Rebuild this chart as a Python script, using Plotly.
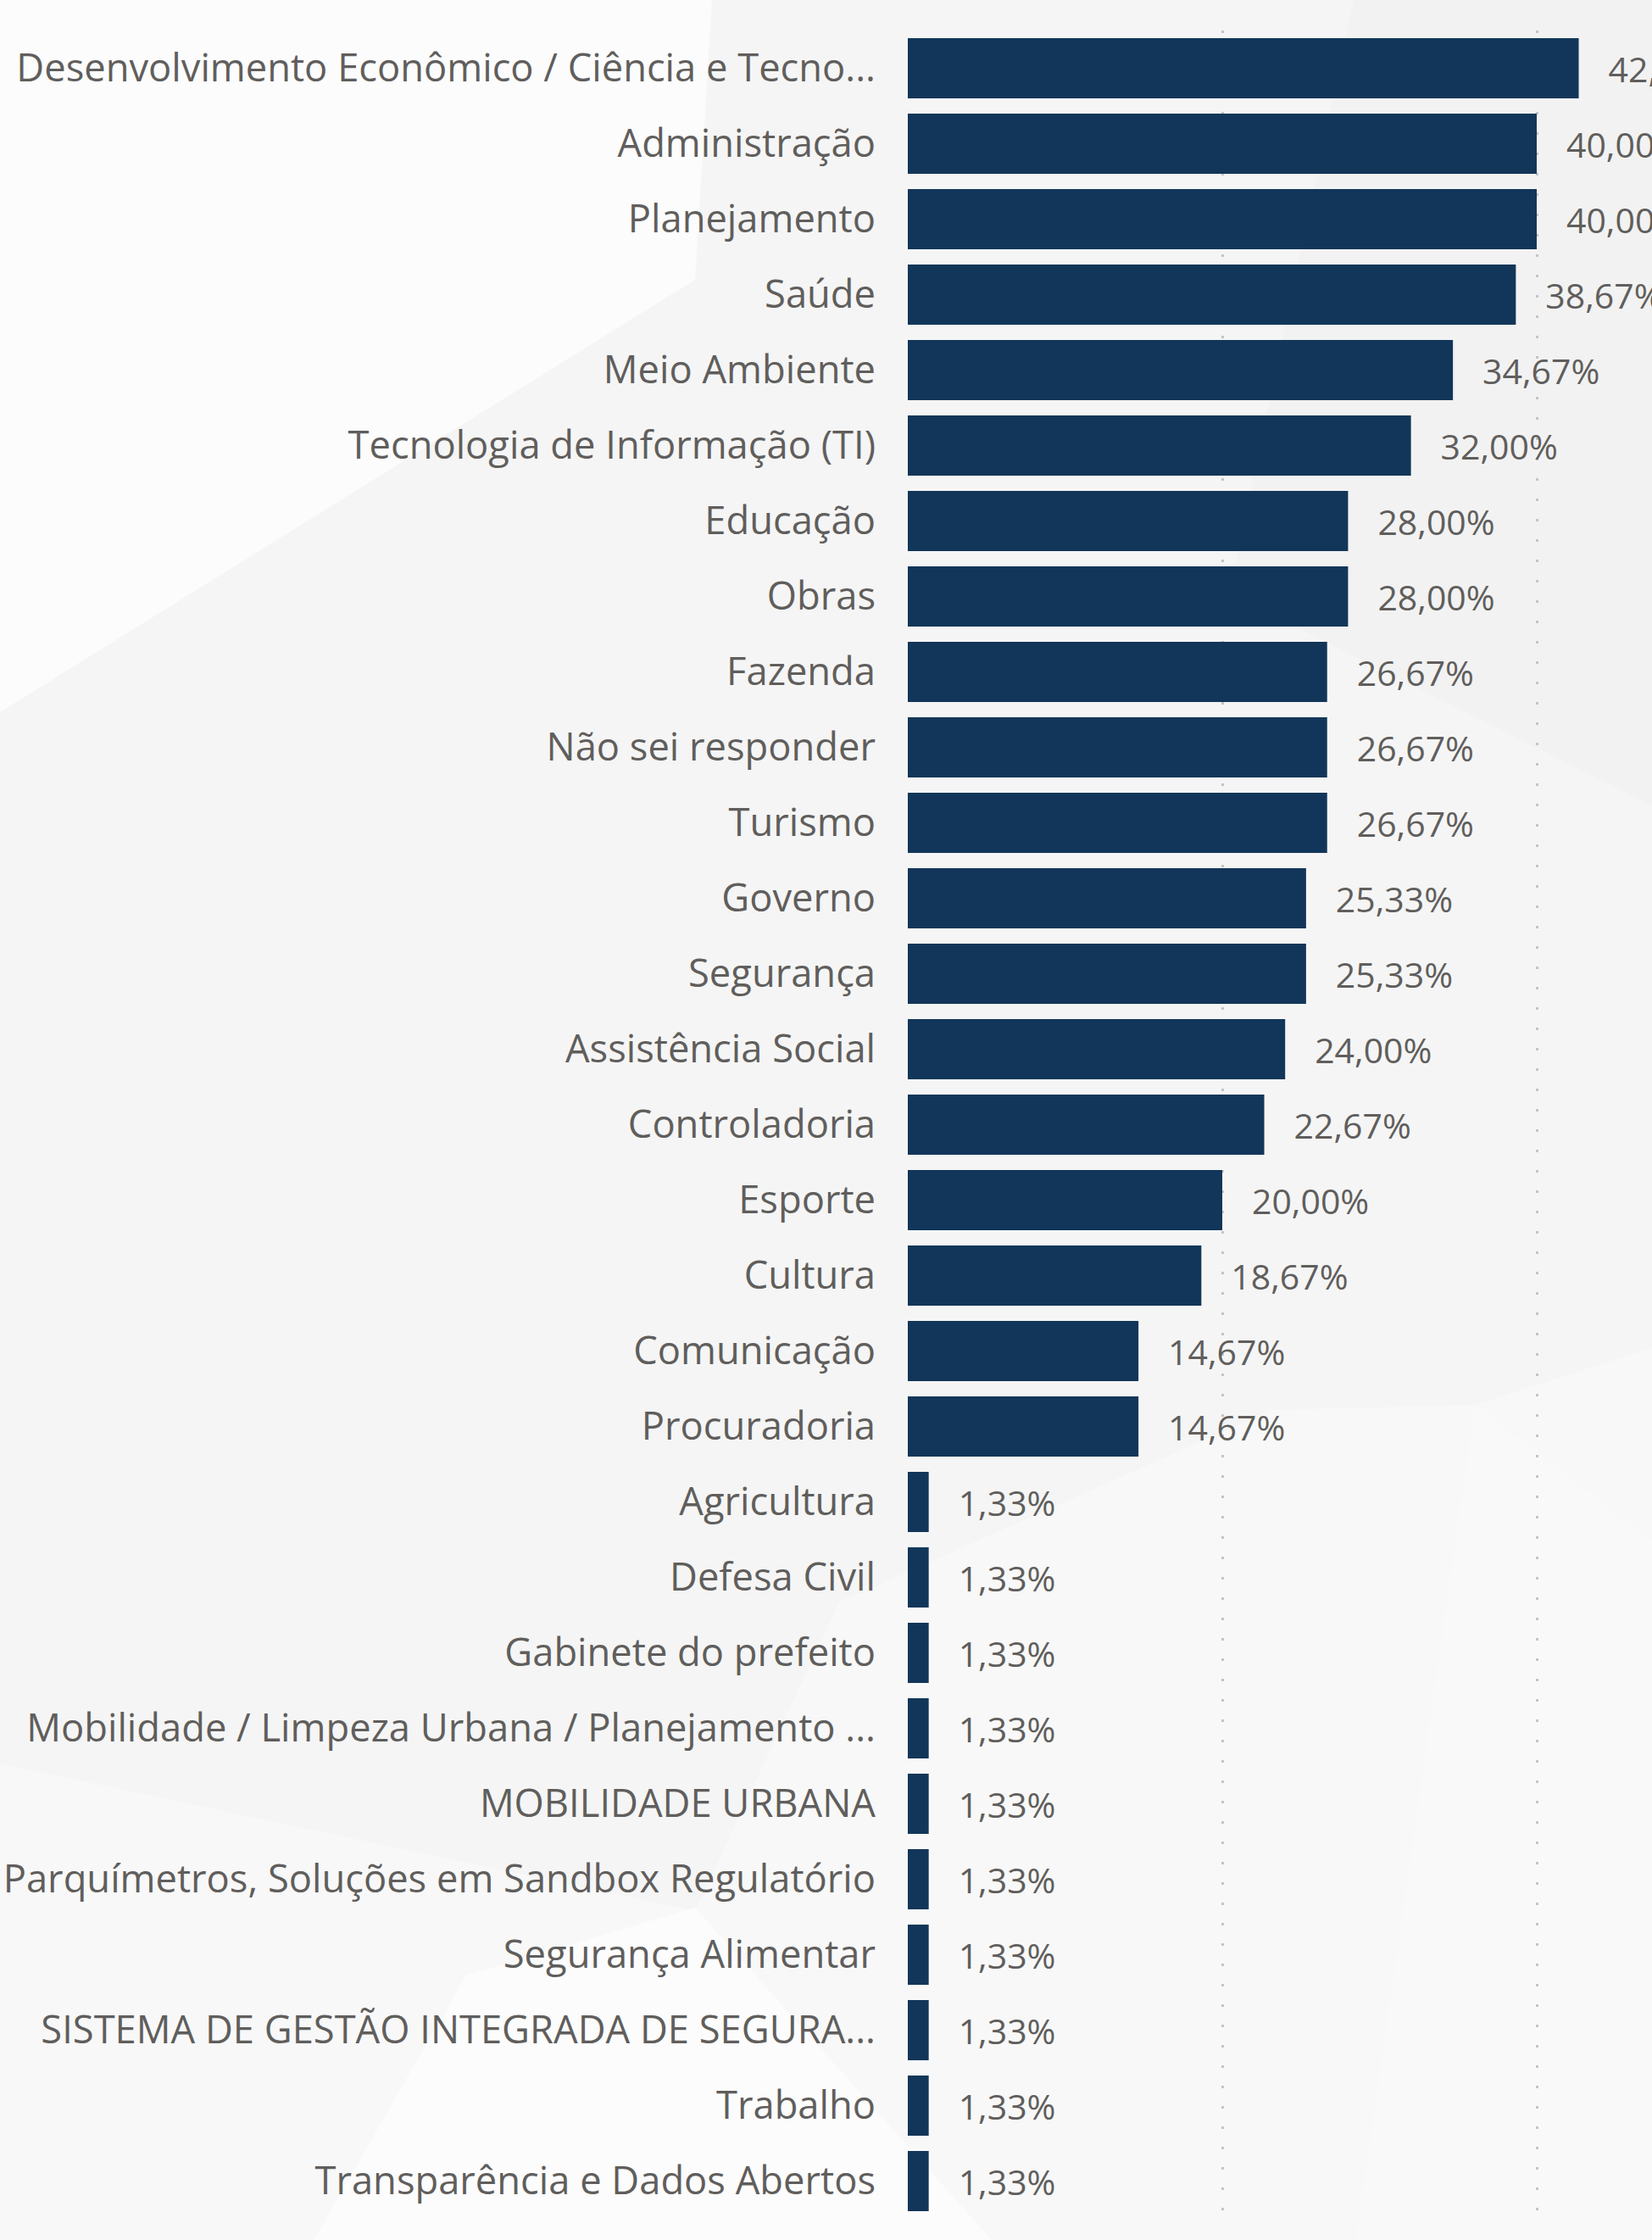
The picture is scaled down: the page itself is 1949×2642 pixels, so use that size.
import plotly.graph_objects as go

categories = [
    "Desenvolvimento Econômico / Ciência e Tecno...",
    "Administração",
    "Planejamento",
    "Saúde",
    "Meio Ambiente",
    "Tecnologia de Informação (TI)",
    "Educação",
    "Obras",
    "Fazenda",
    "Não sei responder",
    "Turismo",
    "Governo",
    "Segurança",
    "Assistência Social",
    "Controladoria",
    "Esporte",
    "Cultura",
    "Comunicação",
    "Procuradoria",
    "Agricultura",
    "Defesa Civil",
    "Gabinete do prefeito",
    "Mobilidade / Limpeza Urbana / Planejamento ...",
    "MOBILIDADE URBANA",
    "Parquímetros, Soluções em Sandbox Regulatório",
    "Segurança Alimentar",
    "SISTEMA DE GESTÃO INTEGRADA DE SEGURA...",
    "Trabalho",
    "Transparência e Dados Abertos",
]
values = [
    42.67, 40.00, 40.00, 38.67, 34.67, 32.00, 28.00, 28.00, 26.67, 26.67,
    26.67, 25.33, 25.33, 24.00, 22.67, 20.00, 18.67, 14.67, 14.67, 1.33,
    1.33, 1.33, 1.33, 1.33, 1.33, 1.33, 1.33, 1.33, 1.33,
]
x_ticks = [0, 20, 40]

W, H = 1949, 2642
L, R, T, B = 1071, 0, 36, 25
FONT = "Open Sans"
TEXT_COLOR = "#605E5C"
BAR_COLOR = "#123659"


def px(X, Y):
    return (X - L) / (W - L - R), (H - B - Y) / (H - T - B)


def poly(points, color):
    pts = [px(x, y) for x, y in points]
    path = "M " + " L ".join(f"{a:.5f},{b:.5f}" for a, b in pts) + " Z"
    return dict(type="path", xref="paper", yref="paper", path=path,
                fillcolor=color, line=dict(width=0), layer="below")


shapes = [
    poly([(0, 0), (840, 0), (820, 330), (0, 840)], "#fcfcfc"),
    poly([(1597, 0), (1949, 0), (1949, 950), (1450, 700)], "#f2f2f2"),
    poly([(0, 2080), (820, 2254), (990, 1890), (1500, 1663), (1740, 1657),
          (1949, 1590), (1949, 2642), (0, 2642)], "#f8f8f8"),
    poly([(1740, 1657), (1949, 1817), (1949, 2642), (1600, 2642)], "#f9f9f9"),
    poly([(550, 2330), (820, 2250), (1170, 2642), (370, 2642)], "#fcfcfc"),
]

fig = go.Figure()
fig.add_trace(go.Bar(
    x=values,
    y=categories,
    orientation="h",
    marker=dict(color=BAR_COLOR, line=dict(width=0)),
    texttemplate="\u00a0\u00a0\u00a0%{x:.2f}%",
    textposition="outside",
    textfont=dict(family=FONT, size=41, color=TEXT_COLOR),
    constraintext="none",
    cliponaxis=False,
    hoverinfo="skip",
))

fig.update_layout(
    width=W,
    height=H,
    margin=dict(l=L, r=R, t=T, b=B, pad=0),
    paper_bgcolor="#f5f5f5",
    plot_bgcolor="rgba(0,0,0,0)",
    separators=",.",
    bargap=0.2,
    showlegend=False,
    shapes=shapes,
    font=dict(family=FONT, color=TEXT_COLOR),
    xaxis=dict(
        range=[0, 47.33],
        tickvals=x_ticks,
        showticklabels=False,
        showgrid=True,
        gridcolor="#c4c4c4",
        gridwidth=3,
        griddash="3px,21px",
        zeroline=False,
        showline=False,
        fixedrange=True,
    ),
    yaxis=dict(
        categoryorder="array",
        categoryarray=categories,
        autorange="reversed",
        tickfont=dict(family=FONT, size=45.3, color=TEXT_COLOR),
        ticklabelstandoff=37,
        showgrid=False,
        zeroline=False,
        showline=False,
        ticks="",
        fixedrange=True,
    ),
)

fig.write_html(
    "out.html",
    config={"displayModeBar": False},
    post_script="document.body.style.margin='0';document.body.style.overflow='hidden';",
)
